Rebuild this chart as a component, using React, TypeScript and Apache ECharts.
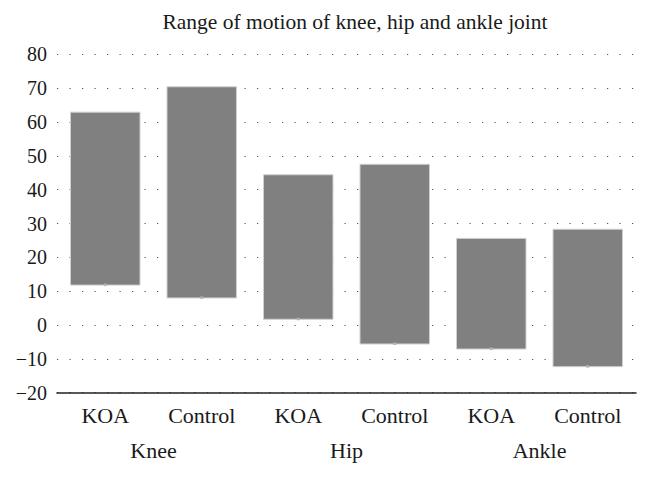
import React, { useEffect, useRef } from "react";
import * as echarts from "echarts";

const groupLabels = ["KOA", "Control", "KOA", "Control", "KOA", "Control"];
const jointLabels = ["Knee", "Hip", "Ankle"];
const lowValues = [11.8, 8.0, 1.7, -5.6, -7.1, -12.3];
const highValues = [62.9, 70.4, 44.4, 47.5, 25.6, 28.3];
const titleText = "Range of motion of knee, hip and ankle joint";

const FONT = "Liberation Serif";

export default function App() {
  const ref = useRef<HTMLDivElement>(null);
  useEffect(() => {
    if (!ref.current) return;
    const chart = echarts.init(ref.current, null, { renderer: "svg" });
    const data = groupLabels.map((_, i) => [i, lowValues[i], highValues[i]]);
    chart.setOption({
      animation: false,
      backgroundColor: "#ffffff",
      title: {
        text: titleText,
        left: 350,
        textAlign: "center",
        top: 6,
        textStyle: { fontFamily: FONT, fontSize: 21.5, fontWeight: "normal", color: "#1a1a1a" },
      },
      grid: { left: 57, right: 14, top: 54.3, bottom: 85.3, containLabel: false },
      xAxis: [
        {
          type: "category",
          data: groupLabels,
          position: "bottom",
          axisLine: { show: true, onZero: false, lineStyle: { color: "#222", width: 1.6 } },
          axisTick: { show: false },
          splitLine: { show: false },
          axisLabel: { fontFamily: FONT, fontSize: 22, color: "#1a1a1a", margin: 12 },
        },
        {
          type: "category",
          data: jointLabels,
          position: "bottom",
          offset: 35,
          axisLine: { show: false },
          axisTick: { show: false },
          splitLine: { show: false },
          axisLabel: { fontFamily: FONT, fontSize: 22, color: "#1a1a1a", margin: 12 },
        },
      ],
      yAxis: {
        type: "value",
        min: -20,
        max: 80,
        interval: 10,
        axisLine: { show: false },
        axisTick: { show: false },
        axisLabel: {
          fontFamily: FONT,
          fontSize: 20,
          color: "#1a1a1a",
          margin: 10,
          formatter: (v: number) => String(v).replace("-", "\u2212"),
        },
        splitLine: {
          show: true,
          lineStyle: { color: "#555", width: 1.2, type: [1.2, 11.3] },
        },
      },
      series: [
        {
          type: "custom",
          xAxisIndex: 0,
          encode: { x: 0, y: [1, 2] },
          data,
          renderItem: (params: any, api: any) => {
            const idx = api.value(0);
            const lo = api.coord([idx, api.value(1)]);
            const hi = api.coord([idx, api.value(2)]);
            const w = api.size([1, 0])[0] * 0.72;
            return {
              type: "group",
              children: [
                {
                  type: "rect",
                  shape: { x: lo[0] - w / 2, y: hi[1], width: w, height: lo[1] - hi[1] },
                  style: { fill: "#808080", stroke: "#cfcfcf", lineWidth: 1 },
                },
                {
                  type: "rect",
                  shape: { x: lo[0] - 1.5, y: lo[1] - 1.5, width: 3, height: 2.5 },
                  style: { fill: "#b4b4b4" },
                },
              ],
            };
          },
        },
      ],
    });
    return () => chart.dispose();
  }, []);
  return <div ref={ref} style={{ width: 650, height: 478, margin: -8 }} />;
}
